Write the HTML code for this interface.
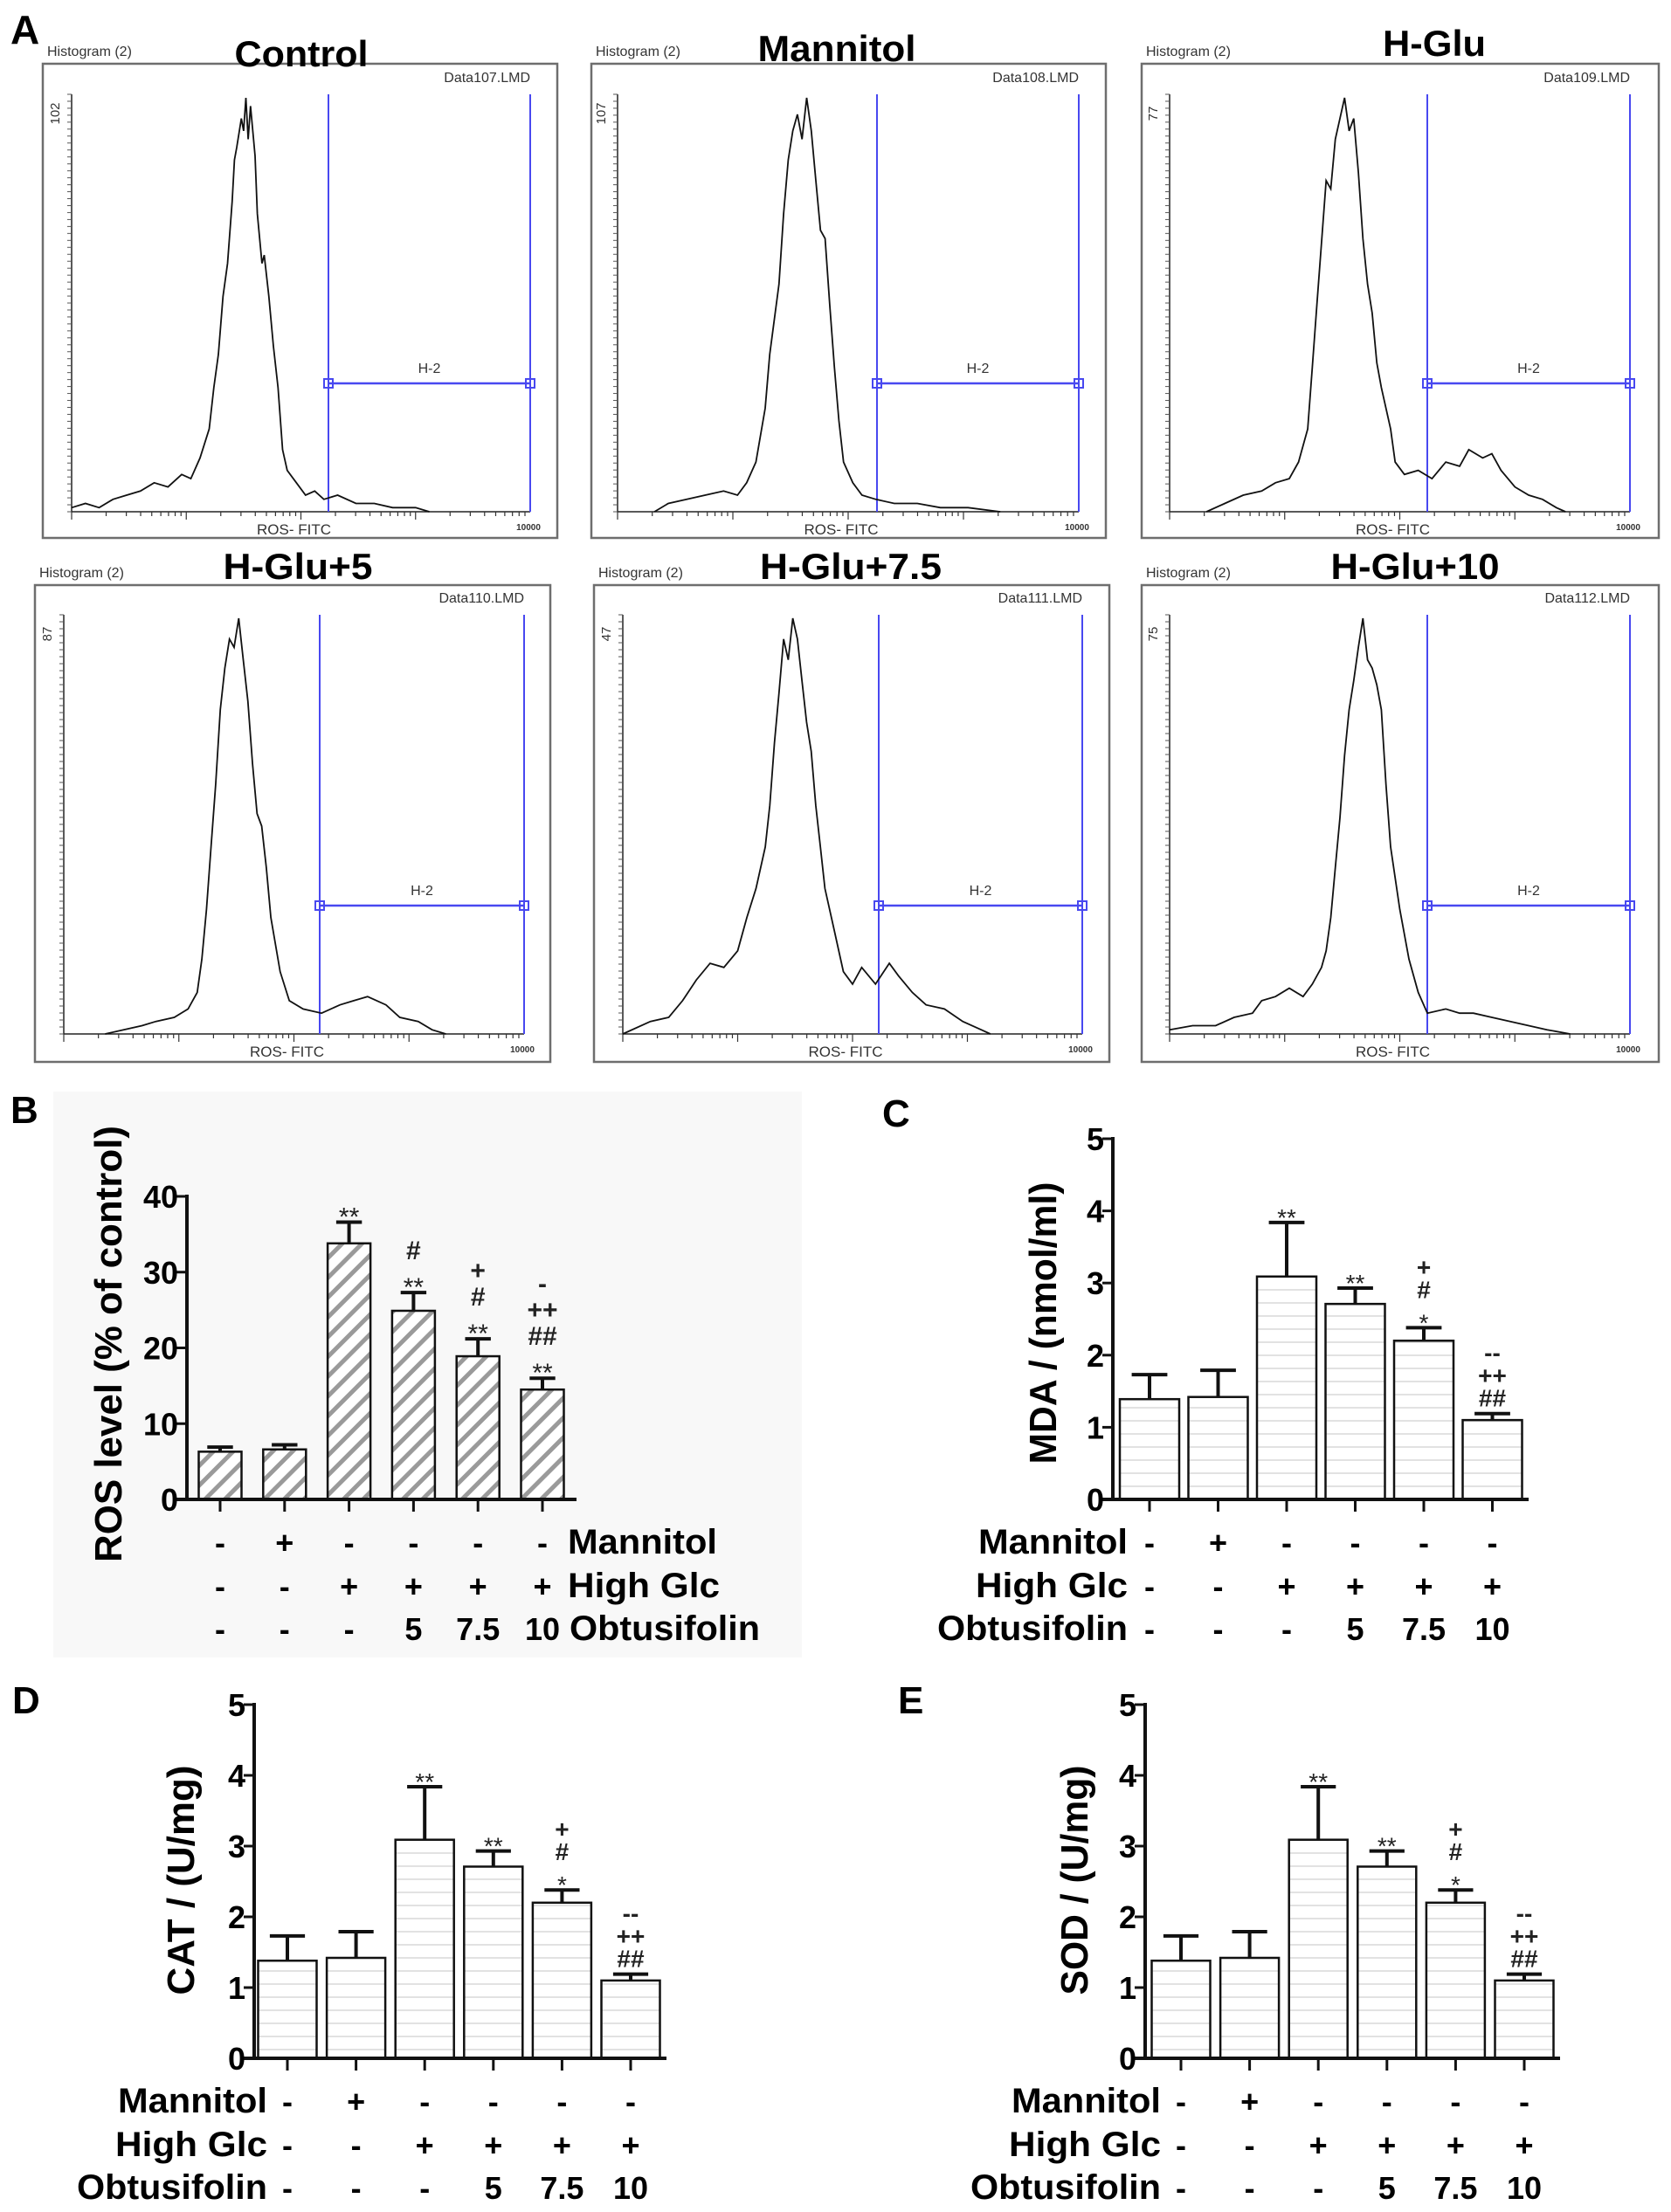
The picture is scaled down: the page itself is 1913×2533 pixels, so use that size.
<!DOCTYPE html>
<html><head><meta charset="utf-8"><style>
html,body{margin:0;padding:0;background:#fff;}
svg{display:block;}
text{font-family:"Liberation Sans",sans-serif;}
</style></head><body>
<svg id="fig" xmlns="http://www.w3.org/2000/svg" width="1913" height="2533" viewBox="0 0 1913 2533">
<defs>
<pattern id="hatch" width="16" height="16" patternUnits="userSpaceOnUse" patternTransform="rotate(45)">
<rect width="16" height="16" fill="#fff"/><line x1="4" y1="0" x2="4" y2="16" stroke="#9a9a9a" stroke-width="5"/>
</pattern>
<pattern id="hlines" width="20" height="15" patternUnits="userSpaceOnUse">
<rect width="20" height="15" fill="#fff"/><line x1="0" y1="7" x2="20" y2="7" stroke="#e2e2e2" stroke-width="2"/>
</pattern>
</defs>
<rect x="61" y="1250" width="857" height="648" fill="#f8f8f8"/>
<g id="topPanels"></g>
<g id="bars"></g>
</svg>
<script>
// ---------- histogram data (x fraction of axis, y fraction of max count) ----------
const histTitles = ["Control","Mannitol","H-Glu","H-Glu+5","H-Glu+7.5","H-Glu+10"];
const histFiles = ["Data107.LMD","Data108.LMD","Data109.LMD","Data110.LMD","Data111.LMD","Data112.LMD"];
const histMax = ["102","107","77","87","47","75"];
const histControl = [[0,0.01],[0.03,0.02],[0.06,0.01],[0.09,0.03],[0.12,0.04],[0.15,0.05],[0.18,0.07],[0.21,0.06],[0.24,0.09],[0.26,0.08],[0.28,0.13],[0.30,0.2],[0.31,0.3],[0.32,0.38],[0.33,0.52],[0.34,0.6],[0.35,0.75],[0.355,0.85],[0.36,0.88],[0.37,0.95],[0.375,0.92],[0.38,1.0],[0.385,0.9],[0.39,0.98],[0.40,0.86],[0.405,0.72],[0.415,0.6],[0.42,0.62],[0.43,0.52],[0.44,0.4],[0.45,0.3],[0.46,0.15],[0.47,0.1],[0.49,0.07],[0.51,0.04],[0.53,0.05],[0.55,0.03],[0.58,0.04],[0.62,0.02],[0.66,0.02],[0.70,0.01],[0.75,0.01],[0.78,0]];
const histMannitol = [[0.08,0],[0.11,0.02],[0.15,0.03],[0.19,0.04],[0.23,0.05],[0.26,0.04],[0.28,0.07],[0.30,0.12],[0.32,0.25],[0.33,0.38],[0.35,0.55],[0.36,0.72],[0.37,0.85],[0.38,0.92],[0.39,0.96],[0.40,0.9],[0.41,1.0],[0.42,0.92],[0.43,0.8],[0.44,0.68],[0.45,0.66],[0.46,0.5],[0.47,0.35],[0.48,0.22],[0.49,0.12],[0.51,0.07],[0.53,0.04],[0.56,0.03],[0.6,0.02],[0.65,0.02],[0.7,0.01],[0.76,0.01],[0.83,0]];
const histHGlu = [[0.08,0],[0.12,0.02],[0.16,0.04],[0.2,0.05],[0.23,0.07],[0.26,0.08],[0.28,0.12],[0.30,0.2],[0.31,0.35],[0.32,0.5],[0.33,0.65],[0.34,0.8],[0.35,0.78],[0.36,0.9],[0.37,0.95],[0.38,1.0],[0.39,0.92],[0.40,0.95],[0.41,0.82],[0.42,0.66],[0.43,0.55],[0.44,0.48],[0.45,0.36],[0.46,0.3],[0.48,0.2],[0.49,0.12],[0.51,0.09],[0.54,0.1],[0.57,0.08],[0.6,0.12],[0.63,0.11],[0.65,0.15],[0.68,0.13],[0.7,0.14],[0.72,0.1],[0.75,0.06],[0.78,0.04],[0.81,0.03],[0.84,0.01],[0.86,0]];
const histHGlu5 = [[0.09,0],[0.13,0.01],[0.17,0.02],[0.2,0.03],[0.24,0.04],[0.27,0.06],[0.29,0.1],[0.3,0.18],[0.31,0.3],[0.32,0.45],[0.33,0.6],[0.34,0.78],[0.35,0.88],[0.36,0.95],[0.37,0.93],[0.38,1.0],[0.39,0.9],[0.40,0.8],[0.41,0.65],[0.42,0.53],[0.43,0.5],[0.44,0.4],[0.45,0.28],[0.47,0.15],[0.49,0.08],[0.52,0.06],[0.56,0.05],[0.6,0.07],[0.63,0.08],[0.66,0.09],[0.7,0.07],[0.73,0.04],[0.77,0.03],[0.8,0.01],[0.83,0]];
const histHGlu75 = [[0.0,0],[0.06,0.03],[0.1,0.04],[0.13,0.08],[0.16,0.13],[0.19,0.17],[0.22,0.16],[0.25,0.2],[0.27,0.28],[0.29,0.35],[0.31,0.45],[0.32,0.55],[0.33,0.7],[0.34,0.82],[0.35,0.95],[0.36,0.9],[0.37,1.0],[0.38,0.95],[0.39,0.85],[0.40,0.75],[0.41,0.68],[0.42,0.55],[0.43,0.45],[0.44,0.35],[0.46,0.25],[0.48,0.15],[0.5,0.12],[0.52,0.16],[0.55,0.12],[0.58,0.17],[0.6,0.14],[0.63,0.1],[0.66,0.07],[0.7,0.06],[0.74,0.03],[0.78,0.01],[0.8,0]];
const histHGlu10 = [[0,0.01],[0.05,0.02],[0.1,0.02],[0.14,0.04],[0.18,0.05],[0.2,0.08],[0.23,0.09],[0.26,0.11],[0.29,0.09],[0.31,0.12],[0.33,0.16],[0.34,0.2],[0.35,0.28],[0.36,0.4],[0.37,0.52],[0.38,0.67],[0.39,0.78],[0.40,0.85],[0.41,0.93],[0.42,1.0],[0.43,0.9],[0.44,0.88],[0.45,0.84],[0.46,0.78],[0.47,0.6],[0.48,0.45],[0.5,0.3],[0.52,0.18],[0.54,0.1],[0.56,0.05],[0.6,0.06],[0.63,0.05],[0.66,0.05],[0.7,0.04],[0.74,0.03],[0.78,0.02],[0.82,0.01],[0.87,0]];
const histSeries = [histControl,histMannitol,histHGlu,histHGlu5,histHGlu75,histHGlu10];

// ---------- bar chart data ----------
const barLabels = ["Control","Mannitol","H-Glu","H-Glu+5","H-Glu+7.5","H-Glu+10"];
const mannitolRow = ["-","+","-","-","-","-"];
const highGlcRow = ["-","-","+","+","+","+"];
const obtusifolinRow = ["-","-","-","5","7.5","10"];
const rosValues = [6.3,6.6,33.8,24.9,18.9,14.5];
const rosErrors = [0.6,0.6,2.8,2.4,2.3,1.5];
const rosTicks = ["0","10","20","30","40"];
const rosSig = [[],[],["**"],["**","#"],["**","#","+"],["**","##","++","-"]];
const mdaValues = [1.39,1.42,3.09,2.71,2.2,1.1];
const mdaErrors = [0.34,0.37,0.75,0.22,0.18,0.09];
const catValues = [1.38,1.42,3.09,2.71,2.2,1.1];
const catErrors = [0.35,0.37,0.75,0.22,0.18,0.09];
const sodValues = [1.38,1.42,3.09,2.71,2.2,1.1];
const sodErrors = [0.35,0.37,0.75,0.22,0.18,0.09];
const fiveTicks = ["0","1","2","3","4","5"];
const oxSig = [[],[],["**"],["**"],["*","#","+"],["##","++","--"]];

const NS="http://www.w3.org/2000/svg";
function mk(tag, attrs, parent){const e=document.createElementNS(NS,tag);for(const k in attrs)e.setAttribute(k,attrs[k]);parent.appendChild(e);return e;}
function txt(parent,x,y,s,size,opts){opts=opts||{};const e=mk('text',{x:x,y:y,'font-size':size,'font-weight':opts.w||'bold','text-anchor':opts.a||'start',fill:opts.f||'#000'},parent);
 if(opts.len){e.setAttribute('textLength',opts.len);e.setAttribute('lengthAdjust','spacingAndGlyphs');}
 if(opts.rot)e.setAttribute('transform','rotate('+opts.rot+' '+x+' '+y+')');
 e.textContent=s;return e;}

// ---------- top histograms ----------
const topG=document.getElementById('topPanels');
const lblA=txt(topG,12,50,"A",46,{});


const frames=[
 {fx:49,fy:73,fw:589,fh:543,px0:82,px1:607,py0:108,py1:586,gate:376,hy:439,tx:345,tlen:153,tb:76},
 {fx:677,fy:73,fw:589,fh:543,px0:707,px1:1235,py0:108,py1:586,gate:1004,hy:439,tx:958,tlen:181,tb:70},
 {fx:1307,fy:73,fw:592,fh:543,px0:1339,px1:1866,py0:108,py1:586,gate:1634,hy:439,tx:1642,tlen:118,tb:64},
 {fx:40,fy:670,fw:590,fh:546,px0:73,px1:600,py0:704,py1:1184,gate:366,hy:1037,tx:341,tlen:171,tb:663},
 {fx:680,fy:670,fw:590,fh:546,px0:713,px1:1239,py0:704,py1:1184,gate:1006,hy:1037,tx:974,tlen:208,tb:663},
 {fx:1307,fy:670,fw:592,fh:546,px0:1339,px1:1866,py0:704,py1:1184,gate:1634,hy:1037,tx:1620,tlen:193,tb:663}];
frames.forEach((f,i)=>{
 const g=mk('g',{},topG);
 
 
 const fr=mk('rect',{x:f.fx,y:f.fy,width:f.fw,height:f.fh,fill:'#fff',stroke:'#6e6e6e','stroke-width':2.5},g);
 
 
 const h=txt(g,f.fx+5,f.fy-9,"Histogram (2)",16,{w:'normal',f:'#333'});
 
 
 const t=txt(g,f.tx,f.tb,histTitles[i],42,{a:'middle',len:f.tlen});
 
 
 const d=txt(g,f.px1,f.py0-14,histFiles[i],16,{w:'normal',a:'end',f:'#333'});
 
 
 const mx=txt(g,f.px0-14,f.py0+22,histMax[i],15,{w:'normal',f:'#333',rot:-90,a:'middle'});
 
 
 mk('line',{x1:f.px0,y1:f.py0,x2:f.px0,y2:f.py1,stroke:'#222','stroke-width':1.5},g);
 mk('line',{x1:f.px0,y1:f.py1,x2:f.px1,y2:f.py1,stroke:'#222','stroke-width':1.5},g);
 for(let k=0;k<=60;k++){const yy=f.py1-(f.py1-f.py0)*k/60;mk('line',{x1:f.px0-5,y1:yy,x2:f.px0,y2:yy,stroke:'#555','stroke-width':1},g);}
 for(let dec=0;dec<4;dec++){for(let m=1;m<10;m++){const xx=f.px0+(f.px1-f.px0)*(dec+Math.log10(m))/4;mk('line',{x1:xx,y1:f.py1,x2:xx,y2:f.py1+(m==1?9:5),stroke:'#333','stroke-width':1.2},g);}}
 const xl=txt(g,(f.px0+f.px1)/2-8,f.py1+26,"ROS- FITC",17,{w:'normal',a:'middle',f:'#333'});
 
 
 txt(g,f.px1-2,f.py1+21,"10000",10,{w:'bold',a:'middle',f:'#333'});
 const gc='#4848f0';
 mk('line',{x1:f.gate,y1:f.py0,x2:f.gate,y2:f.py1,stroke:gc,'stroke-width':2},g);
 mk('line',{x1:f.px1,y1:f.py0,x2:f.px1,y2:f.py1,stroke:gc,'stroke-width':2},g);
 const gl=mk('line',{x1:f.gate,y1:f.hy,x2:f.px1,y2:f.hy,stroke:gc,'stroke-width':2.5},g);
 
 
 mk('rect',{x:f.gate-5,y:f.hy-5,width:10,height:10,fill:'none',stroke:gc,'stroke-width':2},g);
 mk('rect',{x:f.px1-5,y:f.hy-5,width:10,height:10,fill:'none',stroke:gc,'stroke-width':2},g);
 txt(g,(f.gate+f.px1)/2,f.hy-12,"H-2",16,{w:'normal',a:'middle',f:'#333'});
 const W=f.px1-f.px0,H=f.py1-f.py0-4;
 const pts=histSeries[i].map(p=>(f.px0+p[0]*W).toFixed(1)+','+(f.py1-p[1]*H).toFixed(1)).join(' ');
 const pl=mk('polyline',{points:pts,fill:'none',stroke:'#111','stroke-width':1.8},g);
 
 
});

// ---------- bar charts ----------
const barsG=document.getElementById('bars');
const charts=[
 {id:'b',letter:'B',lx:12,ly:1286,ax:214,y0:1717,yT:1370,max:40,ticks:rosTicks,vals:rosValues,errs:rosErrors,sig:rosSig,c0:252,dx:73.8,bw:49,xEnd:660,fill:'url(#hatch)',
  title:"ROS level (% of control)",tx:124,ty:1539,tlen:500,rows:[1765,1815,1864],labelLeft:true,lab:650,sigSize:30},
 {id:'c',letter:'C',lx:1010,ly:1290,ax:1274,y0:1717,yT:1304,max:5,ticks:fiveTicks,vals:mdaValues,errs:mdaErrors,sig:oxSig,c0:1316,dx:78.5,bw:68,xEnd:1750,fill:'url(#hlines)',
  title:"MDA / (nmol/ml)",tx:1194,ty:1515,tlen:323,rows:[1765,1815,1864],labelLeft:false,lab:1291,sigSize:28},
 {id:'d',letter:'D',lx:14,ly:1962,ax:291,y0:2357,yT:1952,max:5,ticks:fiveTicks,vals:catValues,errs:catErrors,sig:oxSig,c0:329,dx:78.6,bw:67,xEnd:763,fill:'url(#hlines)',
  title:"CAT / (U/mg)",tx:207,ty:2153,tlen:263,rows:[2405,2455,2504],labelLeft:false,lab:306,sigSize:28},
 {id:'e',letter:'E',lx:1028,ly:1962,ax:1311,y0:2357,yT:1952,max:5,ticks:fiveTicks,vals:sodValues,errs:sodErrors,sig:oxSig,c0:1352,dx:78.6,bw:67,xEnd:1786,fill:'url(#hlines)',
  title:"SOD / (U/mg)",tx:1230,ty:2153,tlen:263,rows:[2405,2455,2504],labelLeft:false,lab:1329,sigSize:28}];
const rowNames=["Mannitol","High Glc","Obtusifolin"];
const rowData=[mannitolRow,highGlcRow,obtusifolinRow];
charts.forEach(c=>{
 const g=mk('g',{},barsG);
 
 
 const L=txt(g,c.lx,c.ly,c.letter,44,{});
 
 
 const ys=v=>c.y0-(c.y0-c.yT)*v/c.max;
 const xs=i=>c.c0+c.dx*i;
 c.vals.forEach((v,i)=>{
  const r=mk('rect',{x:xs(i)-c.bw/2,y:ys(v),width:c.bw,height:c.y0-ys(v),fill:c.fill,stroke:'#111','stroke-width':2.5},g);
  
  
  const errTop=ys(v+c.errs[i]);
  const eb=mk('path',{d:'M'+xs(i)+' '+ys(v)+' V'+errTop+' M'+(xs(i)-c.bw*0.3)+' '+errTop+' H'+(xs(i)+c.bw*0.3),stroke:'#111','stroke-width':4,fill:'none'},g);
  
  
  let yy=errTop-8;
  c.sig[i].forEach(s=>{
   const isStar=s.indexOf('*')>=0;
   const st=txt(g,xs(i),yy+(isStar?12:0),s,c.sigSize,{w:isStar?'normal':'bold',a:'middle',f:'#222'});
   
   
   yy-= (c.id=='b'?30:26);
  });
 });
 mk('line',{x1:c.ax,y1:c.yT-2,x2:c.ax,y2:c.y0+2,stroke:'#111','stroke-width':4},g);
 mk('line',{x1:c.ax-14,y1:c.y0,x2:c.xEnd,y2:c.y0,stroke:'#111','stroke-width':4},g);
 c.ticks.forEach((t,k)=>{
  const v=c.max*k/(c.ticks.length-1);const y=ys(v);
  mk('line',{x1:c.ax-12,y1:y,x2:c.ax,y2:y,stroke:'#111','stroke-width':3},g);
  const tl=txt(g,c.ax-10,y+13,t,36,{a:'end'});
  
  
 });
 c.vals.forEach((v,i)=>mk('line',{x1:xs(i),y1:c.y0,x2:xs(i),y2:c.y0+14,stroke:'#111','stroke-width':3},g));
 const yt=txt(g,c.tx,c.ty,c.title,44,{a:'middle',rot:-90,len:c.tlen});
 yt.setAttribute('dy','15');
 
 
 rowData.forEach((row,r)=>{
  const y=c.rows[r]+14;
  row.forEach((s,i)=>{
   const e=txt(g,xs(i),y,s,36,{a:'middle'});
   
   
  });
  const lens=[171,174,218];
  let e;
  if(c.labelLeft){e=txt(g,c.lab+(r==2?2:0),y,rowNames[r],40,{len:lens[r]});}
  else{e=txt(g,c.lab,y,rowNames[r],40,{a:'end',len:lens[r]});}
  
  
 });
});
</script>
</body></html>
